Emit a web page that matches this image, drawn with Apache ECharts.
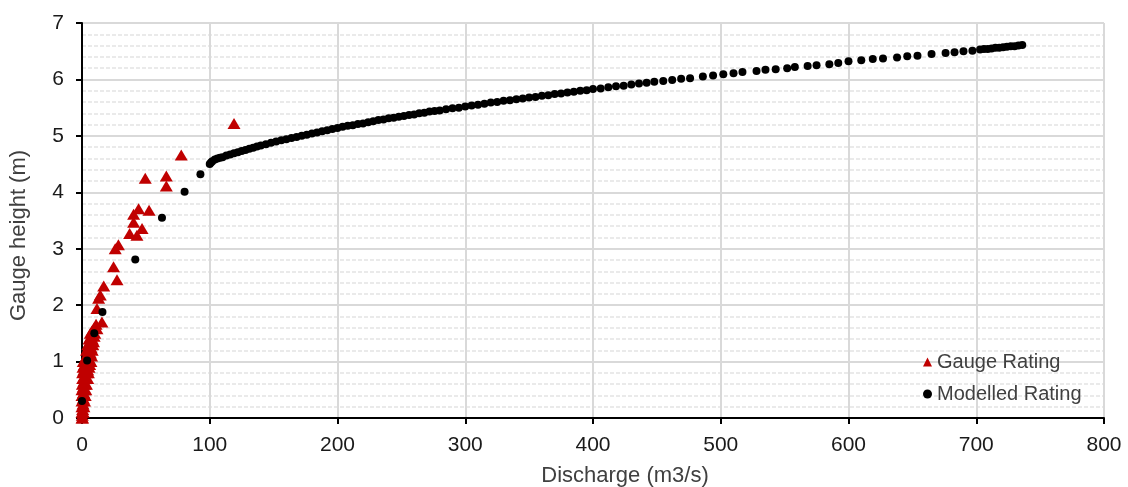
<!DOCTYPE html>
<html>
<head>
<meta charset="utf-8">
<script src="https://cdn.jsdelivr.net/npm/echarts@6/dist/echarts.min.js"></script>
<style>
  html, body { margin: 0; padding: 0; background: #fff; }
  #chart { width: 1128px; height: 487px; }
</style>
</head>
<body>
<div id="chart"></div>
<script>
// Gauge rating (measured), discharge m3/s and gauge height m
const gaugeQ = [0, 0.5, 0.2, 0, 1, 0.5, 0, 1.5, 0.8, 0, 2, 1, 0, 2.5, 1.2, 0, 2, 3, 1, 0.3, 2.5, 3.5, 1.5, 0.5, 3, 4.5, 2, 0.5, 3.5, 5, 1.5, 4.5, 0.8, 3, 5.5, 2, 6, 1, 4, 7, 2.5, 5.5, 3.5, 7.5, 4.5, 6.5, 3.5, 8, 5, 7, 4.5, 8.5, 6, 9, 5.5, 8, 7, 9.5, 6.5, 10, 8, 9.5, 11, 11.7, 15.6, 11.7, 13, 14.3, 17, 27.4, 24.7, 26, 28.5, 37.3, 43, 47, 40.4, 40.4, 44.3, 52.5, 49.5, 66, 66, 77.7, 119];
const gaugeH = [0, 0, 0.05, 0.1, 0.1, 0.15, 0.2, 0.2, 0.25, 0.3, 0.3, 0.35, 0.4, 0.4, 0.45, 0.5, 0.5, 0.5, 0.55, 0.6, 0.6, 0.6, 0.65, 0.7, 0.7, 0.7, 0.75, 0.8, 0.8, 0.8, 0.85, 0.85, 0.9, 0.9, 0.9, 0.95, 0.95, 1.0, 1.0, 1.0, 1.05, 1.05, 1.1, 1.1, 1.15, 1.15, 1.2, 1.2, 1.25, 1.25, 1.3, 1.3, 1.35, 1.35, 1.4, 1.4, 1.45, 1.45, 1.5, 1.5, 1.55, 1.6, 1.66, 1.58, 1.70, 1.94, 2.12, 2.18, 2.34, 2.45, 2.68, 3.0, 3.07, 3.27, 3.24, 3.36, 3.47, 3.61, 3.71, 3.68, 4.25, 4.29, 4.11, 4.66, 5.22];

// Modelled rating
const modelQ = [0, 4, 9.6, 16, 41.7, 62.6, 80.3, 92.7,
  100, 101, 102, 104, 106, 108, 110, 113, 116, 119, 122, 125, 128, 131, 134, 137, 140,
  144, 148, 152, 156, 160, 164, 168, 172, 176, 180, 184, 188, 192, 196, 200,
  204, 208, 212, 216, 220, 224, 228, 232, 236, 240, 244, 248, 252, 256, 260, 264, 268, 272, 276, 280,
  285, 290, 295, 300, 305, 310, 315, 320, 325, 330, 335, 340, 345, 350, 355, 360, 365, 370, 375, 380, 385, 390, 395, 400,
  406, 412, 418, 424, 430, 436, 442, 448, 455, 462, 469, 476,
  486, 494, 502, 510, 517, 528, 535, 543, 552, 558, 568, 575, 585, 592, 600, 610, 619, 627, 638, 646, 654, 665, 676, 683, 690, 697,
  703, 706, 709, 712, 715, 718, 721, 724, 727, 730, 733, 736];
const modelH = [0.30, 1.02, 1.50, 1.88, 2.81, 3.55, 4.01, 4.32,
  4.50, 4.53, 4.55, 4.58, 4.60, 4.61, 4.62, 4.65, 4.67, 4.69, 4.71, 4.73, 4.75, 4.77, 4.79, 4.81, 4.83,
  4.85, 4.88, 4.90, 4.92, 4.94, 4.96, 4.98, 5.00, 5.02, 5.04, 5.06, 5.08, 5.10, 5.12, 5.14,
  5.16, 5.18, 5.19, 5.21, 5.22, 5.24, 5.26, 5.28, 5.29, 5.31, 5.32, 5.34, 5.35, 5.37, 5.38, 5.40, 5.41, 5.43, 5.44, 5.45,
  5.47, 5.49, 5.50, 5.52, 5.54, 5.55, 5.57, 5.59, 5.60, 5.62, 5.63, 5.65, 5.66, 5.68, 5.69, 5.71, 5.72, 5.74, 5.75, 5.77, 5.78, 5.80, 5.81, 5.83,
  5.84, 5.86, 5.88, 5.89, 5.91, 5.93, 5.94, 5.96, 5.97, 5.99, 6.01, 6.02,
  6.05, 6.07, 6.09, 6.11, 6.13, 6.15, 6.17, 6.18, 6.20, 6.22, 6.24, 6.25, 6.27, 6.29, 6.32, 6.34, 6.36, 6.37, 6.39, 6.41, 6.42, 6.45, 6.47, 6.48, 6.50, 6.51,
  6.53, 6.54, 6.54, 6.55, 6.56, 6.56, 6.57, 6.58, 6.59, 6.59, 6.60, 6.61];

const seriesNames = ["Gauge Rating", "Modelled Rating"];
const xTitle = "Discharge (m3/s)";
const yTitle = "Gauge height (m)";

const FONT = "'Liberation Sans', Arial, sans-serif";
const pairs = (xs, ys) => xs.map((x, i) => [x, ys[i]]);

const chart = echarts.init(document.getElementById("chart"));

chart.setOption({
  animation: false,
  textStyle: { fontFamily: FONT },
  grid: { left: 82, right: 24, top: 23, bottom: 69, containLabel: false, outerBoundsMode: "none" },
  legend: {
    orient: "vertical",
    left: 918,
    top: 347,
    itemGap: 12,
    itemWidth: 9,
    itemHeight: 9,
    textStyle: { fontSize: 20, color: "#404040", fontFamily: FONT },
    data: [
      { name: seriesNames[0], icon: "triangle" },
      { name: seriesNames[1], icon: "circle" },
    ],
  },
  xAxis: {
    type: "value",
    min: 0,
    max: 800,
    interval: 100,
    name: xTitle,
    nameLocation: "middle",
    nameGap: 47,
    nameTextStyle: { fontSize: 22, color: "#404040", padding: [0, 0, 0, 64] },
    axisLine: { show: true, onZero: false, lineStyle: { color: "#000", width: 2 } },
    axisTick: { show: true, length: 6, lineStyle: { color: "#000", width: 2 } },
    axisLabel: { fontSize: 21, color: "#1a1a1a", margin: 17 },
    splitLine: { show: true, lineStyle: { color: "#d9d9d9", width: 2 } },
  },
  yAxis: {
    type: "value",
    min: 0,
    max: 7,
    interval: 1,
    name: yTitle,
    nameLocation: "middle",
    nameGap: 52,
    nameTextStyle: { fontSize: 22, color: "#404040", padding: [0, 30, 0, 0] },
    axisLine: { show: true, onZero: false, lineStyle: { color: "#000", width: 2 } },
    axisTick: { show: true, length: 6, lineStyle: { color: "#000", width: 2 } },
    axisLabel: { fontSize: 21, color: "#1a1a1a", margin: 18 },
    splitLine: { show: true, lineStyle: { color: "#d9d9d9", width: 2 } },
    minorTick: { show: false, splitNumber: 5 },
    minorSplitLine: { show: true, lineStyle: { color: "#e3e3e3", width: 1.5, type: [4, 2] } },
  },
  series: [
    {
      name: seriesNames[0],
      type: "scatter",
      symbol: "triangle",
      symbolSize: [13, 11],
      itemStyle: { color: "#c00000", opacity: 1 },
      data: pairs(gaugeQ, gaugeH),
    },
    {
      name: seriesNames[1],
      type: "scatter",
      symbol: "circle",
      symbolSize: 8,
      itemStyle: { color: "#000", opacity: 1 },
      data: pairs(modelQ, modelH),
    },
  ],
});
</script>
</body>
</html>
